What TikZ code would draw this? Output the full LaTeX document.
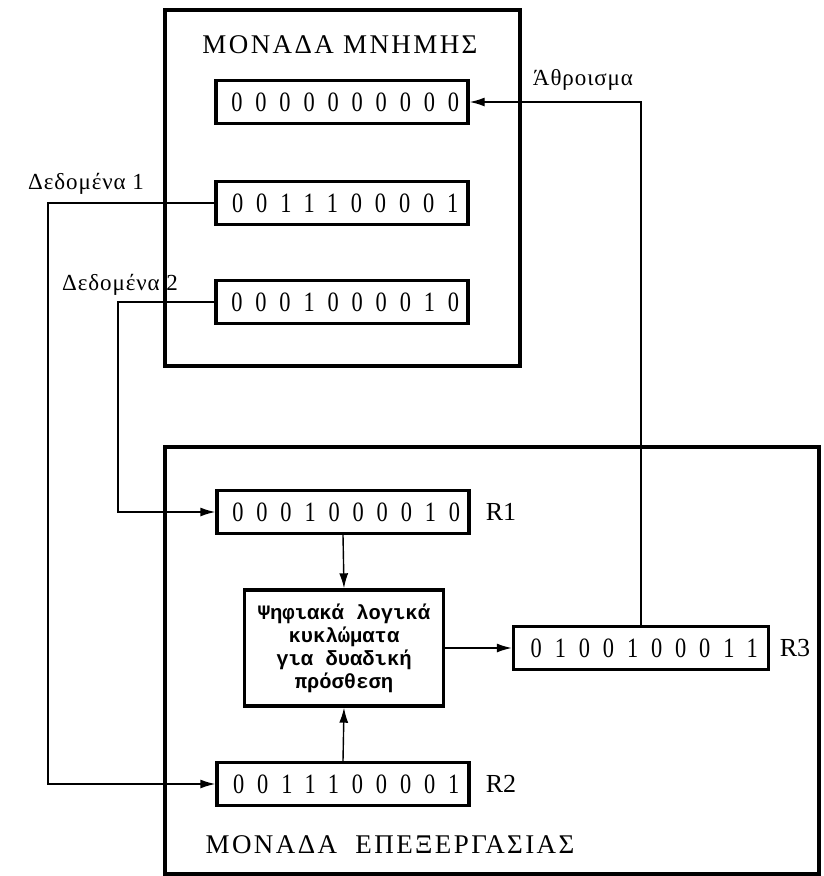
\documentclass[tikz,border=0pt]{standalone}
\usepackage{fontspec}
\setmainfont{Liberation Serif}
\newfontfamily\regfont[LetterSpace=46,FakeStretch=0.8]{Liberation Serif}
\newfontfamily\headfont[LetterSpace=9]{Liberation Serif}
\newfontfamily\lblfont[LetterSpace=4]{Liberation Serif}
\newfontfamily\addfont{Liberation Mono}
\usetikzlibrary{arrows.meta}
\tikzset{
  unitbox/.style={draw,line width=3.4pt},
  regbox/.style={rectangle,draw,line width=3.4pt,minimum width=252pt,
    minimum height=43pt,inner sep=0pt,
    font=\regfont\fontsize{28}{32}\selectfont},
  adderbox/.style={rectangle,draw,line width=3.4pt,minimum width=199pt,
    minimum height=116pt,inner sep=0pt,align=center,
    font=\addfont\bfseries\fontsize{20.5}{23}\selectfont},
  rlabel/.style={font=\fontsize{26}{30}\selectfont,inner sep=0pt},
  title/.style={font=\headfont\fontsize{27}{30}\selectfont,inner sep=0pt},
  note/.style={font=\lblfont\fontsize{23}{28}\selectfont,inner sep=0pt},
  arrow/.style={-{Latex[length=15pt,width=9pt]},line width=1.4pt},
}
\begin{document}
\begin{tikzpicture}[x=1pt,y=-1pt]
  \useasboundingbox (0,0) rectangle (823,876);
  \draw[unitbox] (165,10) rectangle (520,366);
  \draw[unitbox] (165,447) rectangle (819,874);
  \node[title] (memt) at (340,45) {ΜΟΝΑΔΑ ΜΝΗΜΗΣ};
  \node[title] (proct) at (390,845) {ΜΟΝΑΔΑ\ \ ΕΠΕΞΕΡΓΑΣΙΑΣ};
  \node[regbox] (m0) at (342,102) {\hspace*{6.5pt}0000000000};
  \node[regbox] (m1) at (342,203) {\hspace*{6.5pt}0011100001};
  \node[regbox] (m2) at (342,302) {\hspace*{6.5pt}0001000010};
  \node[regbox] (r1) at (343,512) {\hspace*{6.5pt}0001000010};
  \node[regbox] (r2) at (343,784) {\hspace*{6.5pt}0011100001};
  \node[regbox, minimum width=255pt] (r3) at (641,648) {\hspace*{6.5pt}0100100011};
  \node[adderbox] (add) at (344,648)
    {Ψηφιακά λογικά\\κυκλώματα\\για δυαδική\\πρόσθεση};
  \node[rlabel] (r1l) at (501,512) {R1};
  \node[rlabel] (r2l) at (501,784) {R2};
  \node[rlabel] (r3l) at (795,648) {R3};
  \node[note] (sum) at (583,80) {Άθροισμα};
  \node[note] (d1) at (86,184) {Δεδομένα 1};
  \node[note] (d2) at (120,285) {Δεδομένα 2};
  \coordinate (c1) at (48,203);
  \coordinate (c2) at (118,302);
  \draw[arrow] (r3.north) |- (m0.east);
  \draw[arrow] (m1.west) -- (c1) |- (r2.west);
  \draw[arrow] (m2.west) -- (c2) |- (r1.west);
  \draw[arrow] (r1.south) -- (add.north);
  \draw[arrow] (r2.north) -- (add.south);
  \draw[arrow] (add.east) -- (r3.west);
\end{tikzpicture}
\end{document}
